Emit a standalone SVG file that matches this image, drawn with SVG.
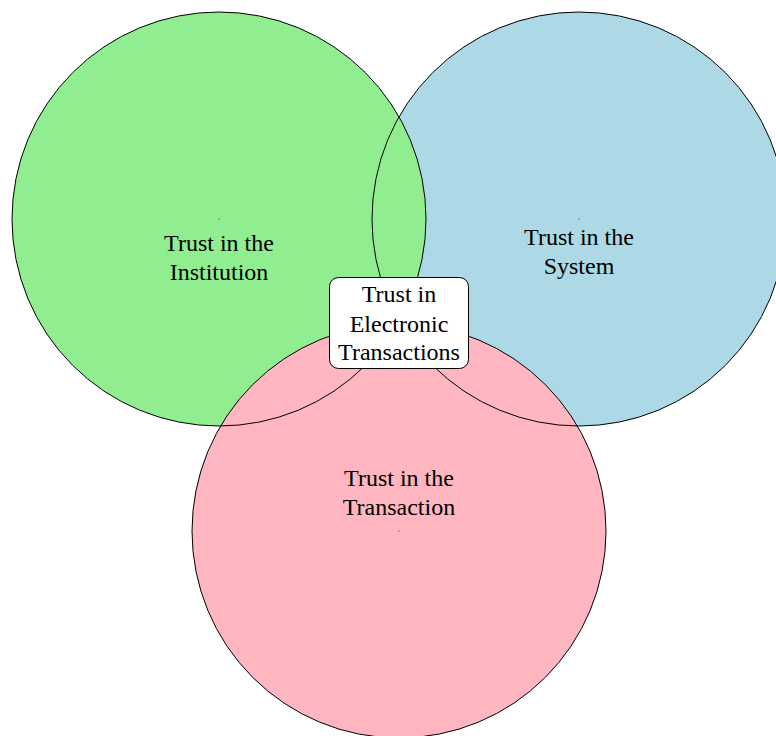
<svg xmlns="http://www.w3.org/2000/svg" width="776" height="736" viewBox="0 0 776 736">
<style>
.ring{fill:none;stroke:#000;stroke-width:1}
.lbl{font-family:"Liberation Serif","Times New Roman",serif;font-size:24px;fill:#000;text-anchor:middle}
.dot{fill:#333}
</style>
<rect width="776" height="736" fill="#fff"/>
<g id="fills">
<circle cx="579" cy="219" r="207" fill="#ADD8E6"/>
<circle cx="219" cy="219" r="207" fill="#90EE90"/>
<circle cx="399" cy="531" r="207" fill="#FFB6C1"/>
</g>
<g id="connectors"></g>
<g id="institution">
<circle class="ring" cx="219" cy="219" r="207"/>
<circle class="dot" cx="219" cy="219" r="0.6"/>
<text class="lbl" x="219" y="251">Trust in the</text>
<text class="lbl" x="219" y="280">Institution</text>
</g>
<g id="system">
<circle class="ring" cx="579" cy="219" r="207"/>
<circle class="dot" cx="579" cy="219" r="0.6"/>
<text class="lbl" x="579" y="245">Trust in the</text>
<text class="lbl" x="579" y="274">System</text>
</g>
<g id="transaction">
<circle class="ring" cx="399" cy="531" r="207"/>
<circle class="dot" cx="399" cy="531" r="0.6"/>
<text class="lbl" x="399" y="486">Trust in the</text>
<text class="lbl" x="399" y="515">Transaction</text>
</g>
<g id="electronic">
<rect x="329.5" y="277.5" width="139" height="91" rx="9" ry="9" fill="#fff" stroke="#000" stroke-width="1"/>
<text class="lbl" x="399" y="302">Trust in</text>
<text class="lbl" x="399" y="331.5">Electronic</text>
<text class="lbl" x="399" y="360">Transactions</text>
</g>
</svg>
